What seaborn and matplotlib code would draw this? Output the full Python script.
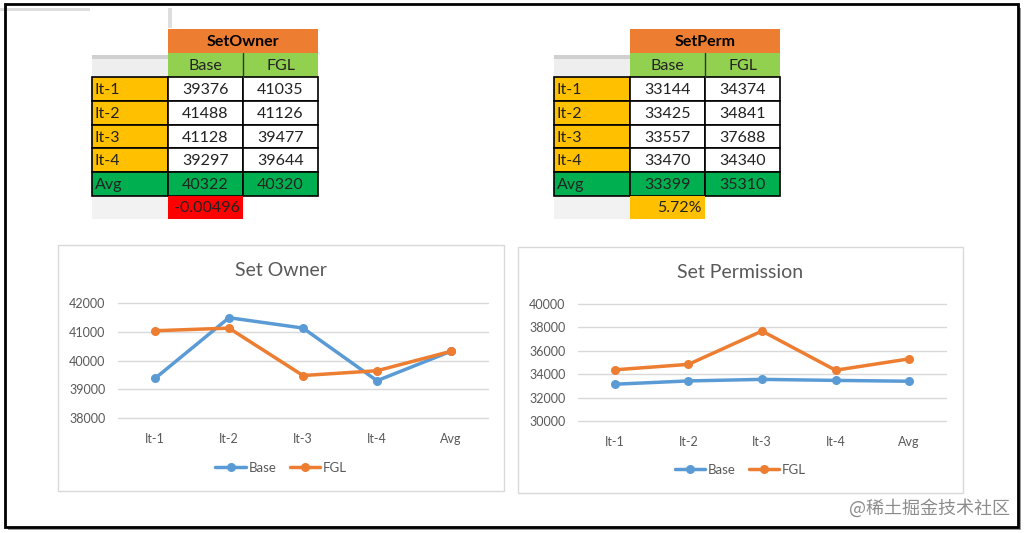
import numpy as np
import pandas as pd
import matplotlib.pyplot as plt
from matplotlib.patches import Rectangle
import seaborn as sns

# data
iters = ['It-1', 'It-2', 'It-3', 'It-4', 'Avg']
series = ['Base', 'FGL']
owner_base = [39376, 41488, 41128, 39297, 40322]
owner_fgl = [41035, 41126, 39477, 39644, 40320]
perm_base = [33144, 33425, 33557, 33470, 33399]
perm_fgl = [34374, 34841, 37688, 34340, 35310]
owner_diff = '-0.00496'
perm_diff = '5.72%'

sns.set_theme(style='white')
plt.rcParams['font.family'] = ['Lato', 'Noto Sans CJK SC', 'DejaVu Sans']

W, H = 1024, 533
fig = plt.figure(figsize=(W / 100, H / 100), dpi=100)
fig.patch.set_facecolor('white')

# background axes in pixel coords for tables, boxes, frame
bg = fig.add_axes([0, 0, 1, 1])
bg.set_xlim(0, W)
bg.set_ylim(H, 0)
bg.axis('off')

BLUE = '#5B9BD5'
ORANGE = '#ED7D31'
TXT = '#595959'
TFS = 11.5


def rect(x, y, w, h, fc, ec='none', lw=0, z=1):
    bg.add_patch(Rectangle((x, y), w, h, facecolor=fc, edgecolor=ec, linewidth=lw, zorder=z))


def draw_table(x0, title, base, fgl, diff, diff_color):
    cw0, cw = 76, 75
    y_head, y_sub, y_rows = 29, 53, 77
    rh = 23.8
    # header
    rect(x0 + cw0, y_head, 2 * cw, y_sub - y_head, ORANGE)
    bg.text(x0 + cw0 + cw, (y_head + y_sub) / 2 + 1, title, ha='center', va='center',
            fontsize=TFS, fontweight='bold', color='black', zorder=3)
    rect(x0 + cw0, y_sub, 2 * cw, y_rows - y_sub, '#92D050')
    bg.plot([x0 + cw0 + cw] * 2, [y_sub, y_rows], color='#333333', lw=1, zorder=3)
    for j, s in enumerate(series):
        bg.text(x0 + cw0 + cw * j + cw / 2, (y_sub + y_rows) / 2 + 1, s, ha='center',
                va='center', fontsize=TFS, color='#222222', zorder=3)
    # shadow of the empty corner cell
    rect(x0, y_sub + 2, cw0, y_rows - y_sub - 2, '#EEEEEE')
    rect(x0, y_sub + 2, cw0, 4, '#D0D0D0')
    # body rows
    for i, lab in enumerate(iters):
        y = y_rows + i * rh
        avg = lab == 'Avg'
        rect(x0, y, cw0, rh, '#00B050' if avg else '#FFC000', 'black', 1.2, 2)
        rect(x0 + cw0, y, cw, rh, '#00B050' if avg else 'white', 'black', 1.2, 2)
        rect(x0 + cw0 + cw, y, cw, rh, '#00B050' if avg else 'white', 'black', 1.2, 2)
        bg.text(x0 + 3, y + rh / 2 + 1, lab, ha='left', va='center', fontsize=TFS,
                color='#222222', zorder=3)
        bg.text(x0 + cw0 + cw / 2, y + rh / 2 + 1, str(base[i]), ha='center', va='center',
                fontsize=TFS, color='#222222', zorder=3)
        bg.text(x0 + cw0 + cw * 1.5, y + rh / 2 + 1, str(fgl[i]), ha='center', va='center',
                fontsize=TFS, color='#222222', zorder=3)
    yb = y_rows + 5 * rh
    rect(x0, yb + 1, cw0, 22, '#F2F2F2')
    rect(x0 + cw0, yb, cw, 23, diff_color, z=2)
    bg.text(x0 + cw0 + cw - 3, yb + 12, diff, ha='right', va='center', fontsize=TFS,
            color='#222222', zorder=3)


# outer frame with shadow
rect(8, 8, 1013, 522, '#9A9A9A', z=0.5)
rect(5, 4, 1013, 523, 'white', z=0.6)
bg.add_patch(Rectangle((5, 4), 1013, 523, facecolor='none', edgecolor='black',
                       linewidth=2, zorder=5))
rect(0, 8, 90, 3, '#DDDDDD')
rect(168, 8, 4, 20, '#DDDDDD')

draw_table(92, 'SetOwner', owner_base, owner_fgl, owner_diff, '#FF0000')
draw_table(554, 'SetPerm', perm_base, perm_fgl, perm_diff, '#FFC000')

# chart boxes
boxes = [(58, 245, 446, 246), (518, 247, 445, 246)]
for b in boxes:
    rect(*b, 'white', '#D9D9D9', 1)


def line_chart(rect_px, box, title, title_y, legend_y, base, fgl, ylim, step):
    left, top, right, bottom = rect_px
    ax = fig.add_axes([left / W, (H - bottom) / H, (right - left) / W, (bottom - top) / H])
    ax.set_facecolor('none')
    df = pd.DataFrame({
        'pos': list(range(len(iters))) * 2,
        'value': base + fgl,
        'series': [series[0]] * len(iters) + [series[1]] * len(iters),
    })
    sns.lineplot(data=df, x='pos', y='value', hue='series', palette=[BLUE, ORANGE],
                 marker='o', markersize=6.5, markeredgewidth=0, linewidth=2.5, ax=ax)
    ax.set_xlim(-0.5, len(iters) - 0.5)
    ax.set_ylim(*ylim)
    ax.set_yticks(np.arange(ylim[0], ylim[1] + 1, step))
    ax.set_xticks(range(len(iters)))
    ax.set_xticklabels(iters)
    ax.yaxis.grid(True, color='#D9D9D9', lw=1)
    for gl in ax.get_ygridlines():
        gl.set_clip_on(False)
    ax.set_axisbelow(True)
    for sp in ax.spines.values():
        sp.set_visible(False)
    ax.tick_params(axis='both', length=0, labelsize=9, colors=TXT)
    ax.tick_params(axis='x', pad=11)
    ax.tick_params(axis='y', pad=9)
    ax.set_xlabel('')
    ax.set_ylabel('')
    cx = box[0] + box[2] / 2
    sns.move_legend(ax, 'center',
                    bbox_to_anchor=((cx - left) / (right - left), -(legend_y - bottom) / (bottom - top)),
                    ncol=2, frameon=False, title=None, fontsize=9.5, handlelength=2.3,
                    columnspacing=1.0, handletextpad=0.2)
    for t in ax.get_legend().get_texts():
        t.set_color(TXT)
    bg.text(cx, title_y, title, ha='center', va='center', fontsize=14,
            color=TXT, zorder=3)
    return ax


line_chart((118, 303, 488, 418), boxes[0], 'Set Owner', 271, 468, owner_base, owner_fgl,
           (38000, 42000), 1000)
line_chart((578, 304, 946, 421), boxes[1], 'Set Permission', 273, 470, perm_base, perm_fgl,
           (30000, 40000), 2000)

# watermark
bg.text(1010, 508, '@稀土掘金技术社区', ha='right', va='center', fontsize=13,
        color='#8C8C8C', family=['Noto Sans CJK SC', 'DejaVu Sans'], zorder=6)

fig.savefig('out.png', dpi=100)
